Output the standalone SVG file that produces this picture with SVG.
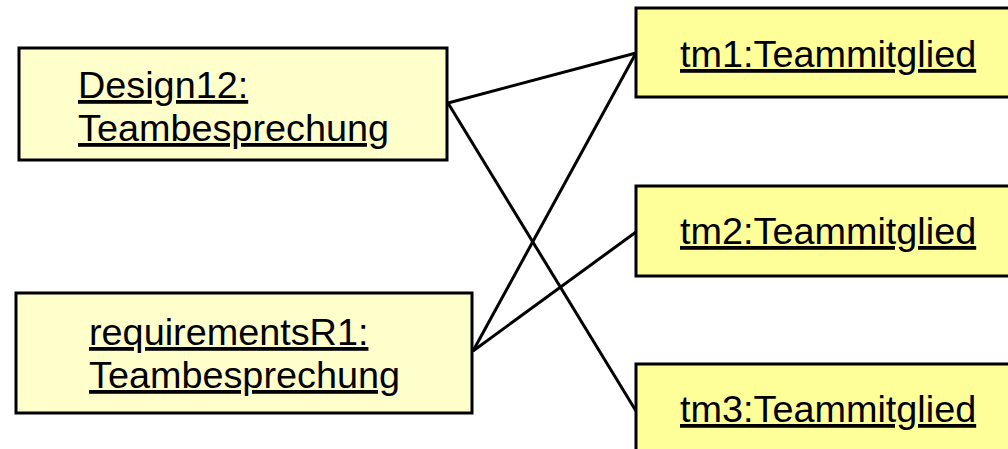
<svg xmlns="http://www.w3.org/2000/svg" width="1008" height="449" viewBox="0 0 1008 449">
<style>
.box{stroke:#000;stroke-width:3}
.l{fill:#FFFFCC}
.r{fill:#FFFF99}
text{font-family:"Liberation Sans",Arial,sans-serif;font-size:37.8px;fill:#000;text-decoration:underline}
.c{stroke:#000;stroke-width:3;fill:none}
</style>
<rect width="1008" height="449" fill="#fff"/>
<g id="connectors">
<line class="c" x1="448" y1="103" x2="636" y2="53"/>
<line class="c" x1="448" y1="103" x2="636" y2="411"/>
<line class="c" x1="473" y1="351" x2="636" y2="53"/>
<line class="c" x1="473" y1="351" x2="636" y2="232"/>
</g>
<g id="design12">
<rect class="box l" x="19" y="48" width="428" height="112"/>
<text x="78" y="98">Design12:</text>
<text x="78" y="141">Teambesprechung</text>
</g>
<g id="requirementsR1">
<rect class="box l" x="16" y="293" width="456" height="120"/>
<text x="89" y="345">requirementsR1:</text>
<text x="89" y="388">Teambesprechung</text>
</g>
<g id="tm1">
<rect class="box r" x="636" y="8" width="380" height="89"/>
<text x="680" y="67">tm1:Teammitglied</text>
</g>
<g id="tm2">
<rect class="box r" x="636" y="186" width="380" height="90"/>
<text x="680" y="244">tm2:Teammitglied</text>
</g>
<g id="tm3">
<rect class="box r" x="636" y="364" width="380" height="100"/>
<text x="680" y="422">tm3:Teammitglied</text>
</g>
</svg>
